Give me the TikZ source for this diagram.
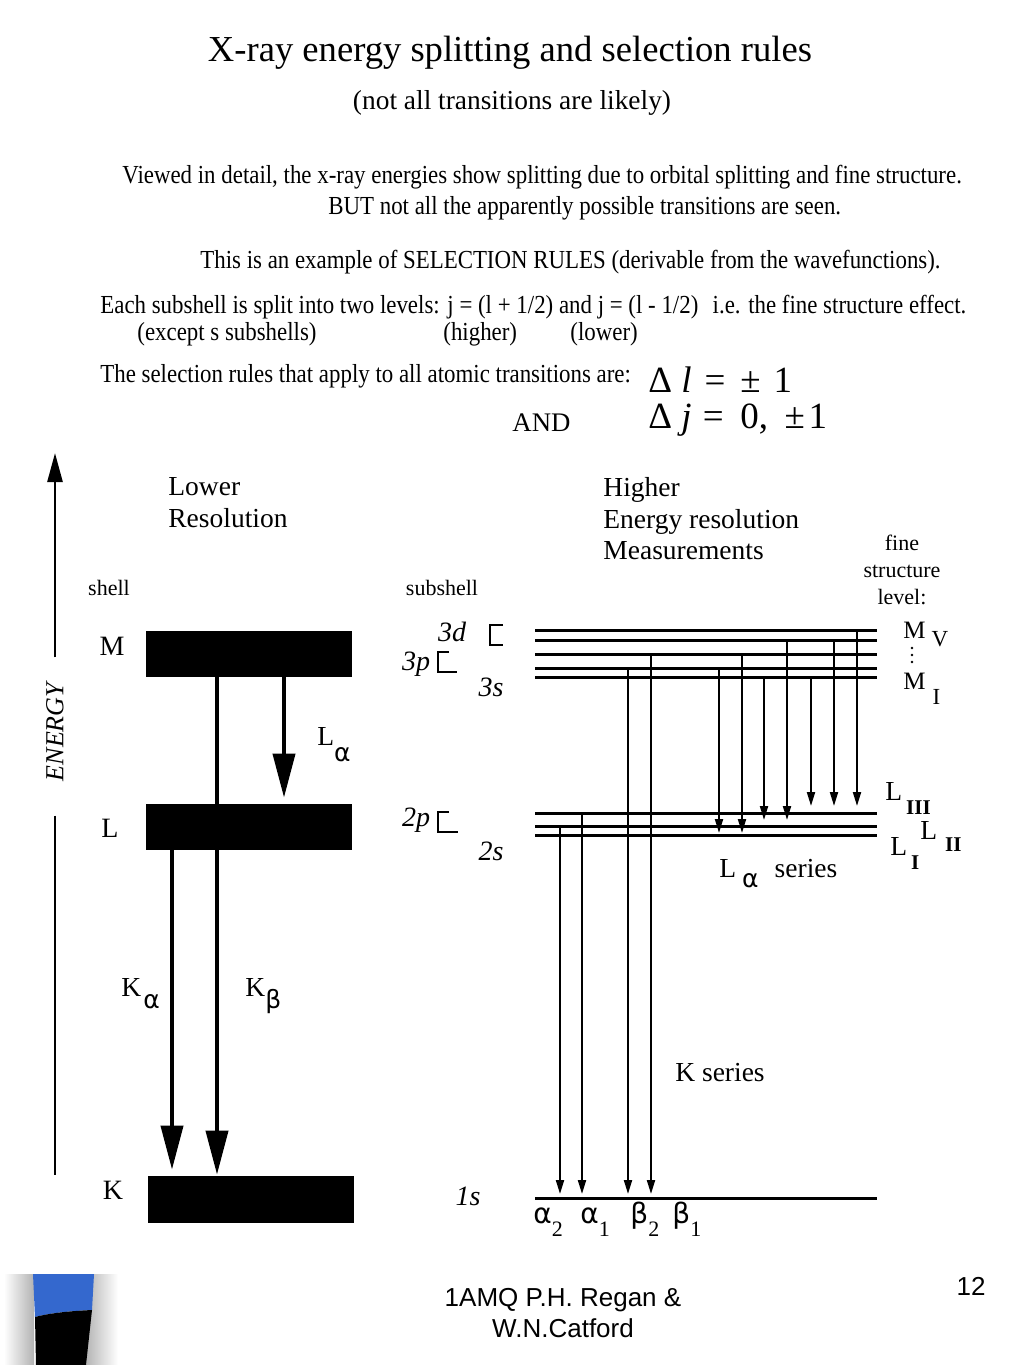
\documentclass[tikz,border=0pt]{standalone}
\usepackage{fontspec}
\setmainfont{Liberation Serif}
\setsansfont{Liberation Sans}
\newfontfamily\narrowserif[FakeStretch=0.88]{Liberation Serif}
\newfontfamily\greekfont{DejaVu Sans}
\usepackage{tikz}
\usetikzlibrary{arrows.meta,positioning,calc}
\definecolor{SlideBlue}{RGB}{52,104,206}
\newcommand{\dn}[2][7pt]{\raisebox{-#1}{#2}}

\begin{document}
\begin{tikzpicture}[x=0.5pt,y=-0.5pt,
    every node/.style={inner sep=0pt},
    hdr/.style={font=\narrowserif\fontsize{13}{15}\selectfont,anchor=west},
    lbl/.style={font=\fontsize{13.75}{16}\selectfont},
    shelltxt/.style={font=\fontsize{14}{16}\selectfont},
    small/.style={font=\fontsize{11}{13.5}\selectfont},
    subsh/.style={font=\itshape\fontsize{14}{16}\selectfont},
    greek/.style={font=\fontsize{14}{16}\selectfont,anchor=base west},
    shellbox/.style={fill=black,minimum width=103pt,minimum height=23pt},
    bigarr/.style={line width=2pt,-{Triangle[length=22pt,width=11pt]}},
    lvl/.style={line width=1.5pt},
    tarr/.style={line width=1pt,-{Triangle[length=7pt,width=4pt]}}]
  \fill[white] (0,0) rectangle (1024,1365);
  \useasboundingbox (0,0) rectangle (1024,1365);

  \node[font=\fontsize{18.3}{20}\selectfont] (title) at (510,53) {X-ray energy splitting and selection rules};
  \node[font=\fontsize{13.7}{16}\selectfont] (subtitle) at (512,103) {(not all transitions are likely)};
  \node[hdr] (line1) at (122,177) {Viewed in detail, the x-ray energies show splitting due to orbital splitting and fine structure.};
  \node[hdr] (line2) at (328,208) {BUT not all the apparently possible transitions are seen.};
  \node[hdr] (line3) at (200,262) {This is an example of SELECTION RULES (derivable from the wavefunctions).};
  \node[hdr] (line4) at (100,307) {Each subshell is split into two levels: j = (l + 1/2) and j = (l - 1/2)\hspace{.55em}i.e. the fine structure effect.};
  \node[hdr] (except) at (137,334) {(except s subshells)};
  \node[hdr] (higher) at (443,334) {(higher)};
  \node[hdr] (lower) at (570,334) {(lower)};
  \node[hdr] (line6) at (100,376) {The selection rules that apply to all atomic transitions are:};
  \node[font=\fontsize{13.4}{15}\selectfont,anchor=west] (and) at (512,423) {AND};
  \node[font=\fontsize{18.5}{20}\selectfont,anchor=west] (rulel) at (648,380) {Δ\hspace{.25em}\textit{l}\hspace{.35em}=\hspace{.4em}±\hspace{.35em}1};
  \node[font=\fontsize{18.5}{20}\selectfont,anchor=west] (rulej) at (648,420) {Δ\hspace{.25em}\textit{j}\hspace{.3em}=\hspace{.45em}0,\hspace{.45em}±\hspace{.1em}1};

  % energy axis
  \node[font=\itshape\fontsize{13}{15}\selectfont,rotate=90] (energy) at (55,732) {ENERGY};
  \coordinate (etop) at (55,453);
  \coordinate (ebot) at (55,1175);
  \draw[line width=1.3pt,-{Triangle[length=14.5pt,width=7.5pt]},shorten <=12.5pt] (energy.east) -- (etop);
  \draw[line width=1.3pt,shorten <=17pt] (energy.west) -- (ebot);

  % lower resolution
  \node[lbl,anchor=west,align=left] (lowres) at (168,503) {Lower\\Resolution};
  \node[small] (shell) at (109,588) {shell};
  \node[shellbox] (Mbox) at (249,654) {};
  \node[shellbox] (Lbox) at (249,827) {};
  \node[shellbox,minimum height=23.5pt] (Kbox) at (251,1199.5) {};
  \node[shelltxt] (Mlbl) at (112,646) {M};
  \node[shelltxt] (Llbl) at (110,828) {L};
  \node[shelltxt] (Klbl) at (113,1190) {K};
  \draw[bigarr,shorten >=3pt] (Mbox.south -| 284,0) -- (Lbox.north -| 284,0);
  \draw[bigarr,shorten >=3pt] (Lbox.south -| 172,0) -- (Kbox.north -| 172,0);
  \draw[bigarr,shorten >=0.5pt] (Mbox.south -| 217,0) -- (Kbox.north -| 217,0);
  \node[lbl,anchor=base west] (Lalpha) at (317,745) {L\dn[8pt]{\greekfont\fontsize{12.5}{14}\selectfont α}};
  \node[lbl,anchor=base west] (Kalpha) at (121,996) {K\hspace{1pt}\dn[6pt]{\greekfont\fontsize{12.5}{14}\selectfont α}};
  \node[lbl,anchor=base west] (Kbeta) at (245,996) {K\dn[6pt]{\greekfont\fontsize{12.5}{14}\selectfont β}};

  % higher resolution
  \node[lbl,anchor=west,align=left,font=\fontsize{13.75}{15.75}\selectfont] (hires) at (603,519) {Higher\\Energy resolution\\Measurements};
  \node[small,align=center] (fsl) at (902,570) {fine\\structure\\level:};
  \node[small] (subshell) at (442,588) {subshell};
  \foreach \n/\y in {M5/630,M4/640,M3/654,M2/668,M1/677,L3/813,L2/826,L1/835,K1/1198} {
    \coordinate (\n) at (535,\y);
    \draw[lvl] (\n) -- ++(342,0);
  }
  \coordinate (Ltip1) at (535,833);
  \coordinate (Ltip2) at (535,820);
  \coordinate (Ltip3) at (535,806);
  \foreach \x/\a in {560/L2,582/L3,628/M2,651/M3}
    \draw[tarr,shorten >=2pt] (\a -| \x,0) -- (K1 -| \x,0);
  \foreach \x/\a/\b in {719/M2/Ltip1,742/M3/Ltip1,764/M1/Ltip2,787/M4/Ltip2,811/M1/Ltip3,834/M4/Ltip3,857/M5/Ltip3}
    \draw[tarr] (\a -| \x,0) -- (\b -| \x,0);

  \node[subsh] (s3d) at (452,632) {3d};
  \node[subsh] (s3p) at (416,664) {3p};
  \node[subsh] (s3s) at (491,687) {3s};
  \node[subsh] (s2p) at (416,820) {2p};
  \node[subsh] (s2s) at (491,851) {2s};
  \node[subsh] (s1s) at (468,1196) {1s};
  \draw[line width=1pt] (503,625) -- (490,625) -- (490,645) -- (503,645);
  \draw[line width=1pt] (449,652) -- (438,652) -- (438,672) -- (457,672);
  \draw[line width=1pt] (449,812) -- (438,812) -- (438,832) -- (458,832);

  \node[lbl,anchor=base west,font=\fontsize{12.5}{14}\selectfont] (MV) at (903,638) {M\hspace{3pt}\dn[4pt]{\fontsize{11.5}{13}\selectfont V}};
  \foreach \y in {648,655,662}
    \fill (912,\y) circle (1.3);
  \node[lbl,anchor=base west,font=\fontsize{12.5}{14}\selectfont] (MI) at (903,689) {M\hspace{3.5pt}\dn[7.5pt]{\fontsize{11.5}{13}\selectfont I}};
  \node[lbl,anchor=base west] (LIII) at (885,800) {L\hspace{2pt}\dn[7pt]{\bfseries\fontsize{10.5}{12}\selectfont III}};
  \node[lbl,anchor=base west] (LII) at (920,839) {L\hspace{4pt}\dn[6pt]{\bfseries\fontsize{10.5}{12}\selectfont II}};
  \node[lbl,anchor=base west] (LI) at (890,855) {L\hspace{2pt}\dn[7pt]{\bfseries\fontsize{10.5}{12}\selectfont I}};
  \node[lbl,anchor=base west] (Lseries) at (719,877) {L\hspace{3pt}\dn[5pt]{\greekfont\fontsize{12.5}{14}\selectfont α}\hspace{8pt}series};
  \node[lbl] (Kseries) at (720,1073) {K series};

  \foreach \g/\i/\x/\n in {α/2/533/a2,α/1/580/a1,β/2/630/b2,β/1/672/b1}
    \node[greek] (\n) at (\x,1223) {{\greekfont\fontsize{14}{16}\selectfont\g}\dn[6.5pt]{\fontsize{11}{13}\selectfont\i}};

  % footer
  \node[font=\sffamily\fontsize{13}{15.5}\selectfont,align=center] (credit) at (563,1313) {1AMQ P.H. Regan \&\\W.N.Catford};
  \node[font=\sffamily\fontsize{13}{15}\selectfont] (pageno) at (971,1286) {12};
  \shade[left color=white,right color=gray!60] (4,1274) rectangle (34,1365);
  \shade[left color=gray!60,right color=white] (91,1274) -- (118,1274) -- (118,1365) -- (85,1365) -- cycle;
  \fill[SlideBlue] (33,1274) -- (94,1274) -- (92,1310) .. controls (70,1311) and (50,1313) .. (35,1317) -- cycle;
  \fill[black] (35,1317) .. controls (50,1313) and (70,1311) .. (92,1310) -- (86,1365) -- (36,1365) -- cycle;
\end{tikzpicture}
\end{document}
